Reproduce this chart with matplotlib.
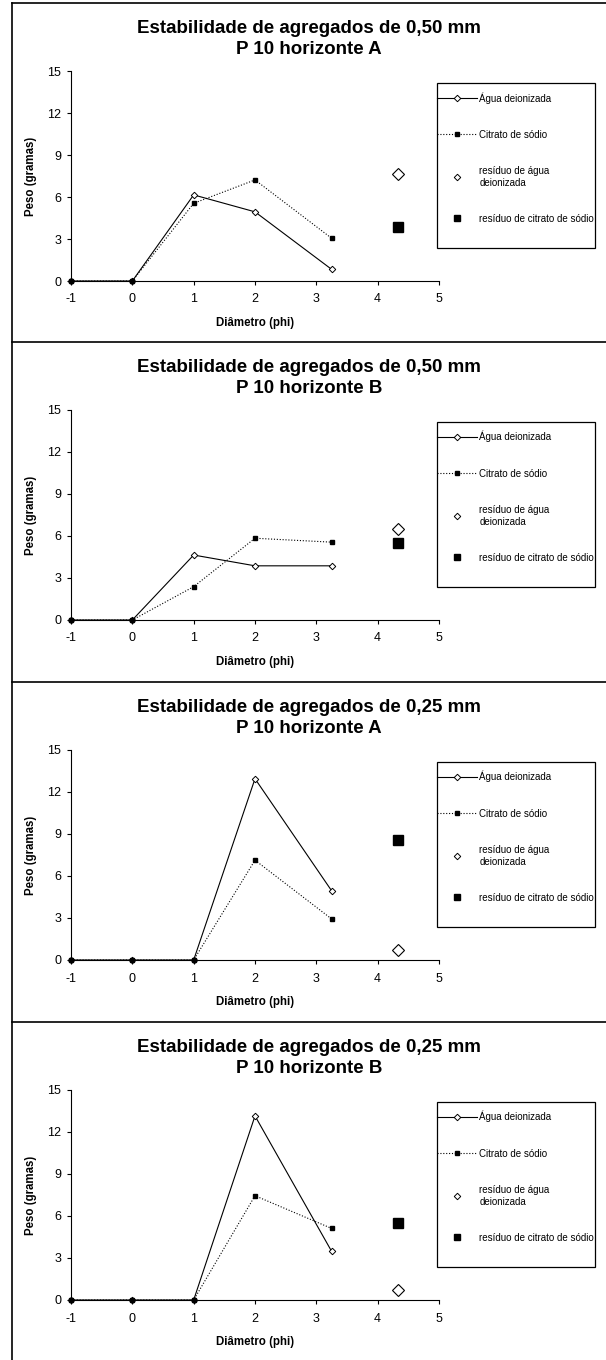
import matplotlib
matplotlib.use('Agg')
import matplotlib.pyplot as plt
from matplotlib.lines import Line2D
from matplotlib.patches import Rectangle

plt.rcParams['font.family'] = ['Liberation Sans', 'DejaVu Sans']
plt.rcParams['axes.unicode_minus'] = False

# dados
diametro = [-1, 0, 1, 2, 3.25]
x_residuo = 4.33
titulos = ['Estabilidade de agregados de 0,50 mm\nP 10 horizonte A',
           'Estabilidade de agregados de 0,50 mm\nP 10 horizonte B',
           'Estabilidade de agregados de 0,25 mm\nP 10 horizonte A',
           'Estabilidade de agregados de 0,25 mm\nP 10 horizonte B']
agua = [[0, 0, 6.15, 4.94, 0.83],
        [0, 0, 4.64, 3.87, 3.87],
        [0, 0, 0, 12.95, 4.94],
        [0, 0, 0, 13.15, 3.47]]
citrato = [[0, 0, 5.55, 7.22, 3.05],
           [0, 0, 2.38, 5.84, 5.56],
           [0, 0, 0, 7.13, 2.93],
           [0, 0, 0, 7.45, 5.11]]
res_agua = [7.62, 6.50, 0.72, 0.72]
res_citrato = [3.83, 5.48, 8.58, 5.48]
rotulos = ['Água deionizada', 'Citrato de sódio',
           'resíduo de água\ndeionizada', 'resíduo de citrato de sódio']

W, H = 606, 1360
fig = plt.figure(figsize=(W / 100, H / 100), dpi=100)
offsets = [0, 339, 679, 1019]


def fx(px):
    return px / W


def fy(py):
    return 1 - py / H


# moldura
fig.add_artist(Line2D([fx(12), fx(12)], [fy(3), 0], color='black', lw=1.2, transform=fig.transFigure))

for i, off in enumerate(offsets):
    fig.add_artist(Line2D([fx(12), 1], [fy(3 + off), fy(3 + off)], color='black', lw=1.2,
                          transform=fig.transFigure))

    ax = fig.add_axes([fx(71), fy(281 + off), (439 - 71) / W, 210 / H])
    ax.plot(diametro, agua[i], color='black', lw=0.8, marker='D', ms=3.3,
            mfc='white', mec='black', mew=0.7, clip_on=False)
    ax.plot(diametro, citrato[i], color='black', lw=0.8, ls=(0, (1, 1.6)), marker='s', ms=3.5,
            mfc='black', mec='black', clip_on=False)
    ax.plot([x_residuo], [res_agua[i]], ls='none', marker='D', ms=6.0,
            mfc='white', mec='black', mew=0.8, clip_on=False)
    ax.plot([x_residuo], [res_citrato[i]], ls='none', marker='s', ms=6.6,
            mfc='black', mec='black', clip_on=False)

    ax.set_xlim(-1, 5)
    ax.set_ylim(0, 15)
    ax.set_xticks(range(-1, 6))
    ax.set_yticks(range(0, 16, 3))
    ax.spines['top'].set_visible(False)
    ax.spines['right'].set_visible(False)
    ax.spines['left'].set_linewidth(0.8)
    ax.spines['bottom'].set_linewidth(0.8)
    ax.tick_params(direction='out', length=3, width=0.8, labelsize=9)
    ax.tick_params(axis='x', pad=6)
    ax.tick_params(axis='y', pad=4)

    ax.set_xlabel('Diâmetro (phi)', fontsize=8.3, fontweight='bold', va='center')
    ax.set_ylabel('Peso (gramas)', fontsize=8.3, fontweight='bold', va='center')
    ax.xaxis.set_label_coords(0.5, (281 - 323) / 210)
    ax.yaxis.set_label_coords((31 - 71) / 368, 0.5)

    fig.text(fx(309), fy(39 + off), titulos[i], ha='center', va='center',
             fontsize=13.5, fontweight='bold', linespacing=1.25)

    handles = [Line2D([], [], color='black', lw=0.8, marker='D', ms=3.3, mfc='white', mec='black', mew=0.7),
               Line2D([], [], color='black', lw=0.8, ls=(0, (1, 1.6)), marker='s', ms=3.5, mfc='black'),
               Line2D([], [], ls='none', marker='D', ms=3.3, mfc='white', mec='black', mew=0.7),
               Line2D([], [], ls='none', marker='s', ms=3.8, mfc='black', mec='black')]
    ax.legend(handles, rotulos, loc='upper left', bbox_to_anchor=(fx(437), fy(92 + off)),
              bbox_transform=fig.transFigure, frameon=False, fontsize=7,
              handlelength=4.1, handletextpad=0.25, labelspacing=2.7,
              borderpad=0, borderaxespad=0)
    fig.add_artist(Rectangle((fx(437), fy(248 + off)), (595 - 437) / W, (248 - 83) / H,
                             transform=fig.transFigure, fill=False, lw=0.9, ec='black'))

fig.savefig('out.png', dpi=100)
